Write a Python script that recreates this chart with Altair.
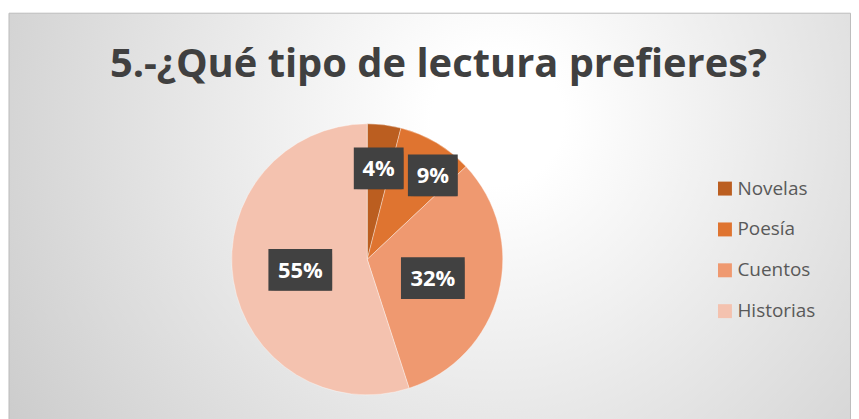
import altair as alt
import pandas as pd

# ---- data ----
TITLE = "5.-¿Qué tipo de lectura prefieres?"
categories = ["Novelas", "Poesía", "Cuentos", "Historias"]
values = [4, 9, 32, 55]
labels = ["4%", "9%", "32%", "55%"]
colors = ["#BB5E20", "#DF7430", "#EF9970", "#F4C2AF"]

df = pd.DataFrame({"cat": categories, "value": values, "label": labels,
                   "idx": list(range(len(categories)))})

# ---- layout / style ----
W, H = 846, 411
CX, CY, R = 360.5, 251.5, 136
FONT = "Open Sans"

bg = alt.Chart(alt.Data(values=[{"a": 1}])).mark_rect(
    fill=alt.RadialGradient(
        gradient="radial",
        stops=[alt.GradientStop(color="#ffffff", offset=0),
               alt.GradientStop(color="#ffffff", offset=0.1),
               alt.GradientStop(color="#c4c4c4", offset=1)],
        x1=0.58, y1=0.38, r1=0, x2=0.58, y2=0.38, r2=0.78),
    stroke="#bdbdbd", strokeWidth=1,
).encode(x=alt.value(1), x2=alt.value(W - 0.5), y=alt.value(4.5), y2=alt.value(H + 10))

pie = alt.Chart(df).mark_arc(outerRadius=R, stroke="#ffffff", strokeWidth=0.6, strokeOpacity=0.6).encode(
    theta=alt.Theta("value:Q", stack=True),
    color=alt.Color("cat:N", sort=categories, title=None,
                    scale=alt.Scale(domain=categories, range=colors),
                    legend=alt.Legend(orient="none", legendX=710, legendY=171,
                                      symbolType="square", symbolSize=196,
                                      symbolStrokeWidth=0, labelFont=FONT,
                                      labelFontSize=19, labelColor="#595959",
                                      rowPadding=21, labelOffset=3, padding=0)),
    order=alt.Order("idx:Q"),
    x=alt.value(CX), y=alt.value(CY),
)

lab = alt.Chart(df).transform_window(
    cum="sum(value)", sort=[alt.SortField("idx")], frame=[None, 0]
).transform_joinaggregate(total="sum(value)").transform_calculate(
    mid="(datum.cum - datum.value / 2) / datum.total * 2 * PI",
    rr="datum.value < 10 ? 92 : 68",
    lx=f"{CX} + datum.rr * sin(datum.mid) + (datum.cat == 'Poesía' ? 19 : 0)",
    ly=f"{CY} - datum.rr * cos(datum.mid) + (datum.cat == 'Poesía' ? -5 : 0) + (datum.cat == 'Cuentos' ? 2 : 0)",
    hw="length(datum.label) * 7 + 11",
    bx1="datum.lx - datum.hw", bx2="datum.lx + datum.hw",
    by1="datum.ly - 21", by2="datum.ly + 21",
)

enc_box = dict(x=alt.X("bx1:Q", scale=None, axis=None), x2="bx2:Q",
               y=alt.Y("by1:Q", scale=None, axis=None), y2="by2:Q")

shadow1 = lab.mark_rect(color="#000000", opacity=0.12, xOffset=4, yOffset=5, cornerRadius=3).encode(**enc_box)
shadow2 = lab.mark_rect(color="#000000", opacity=0.18, xOffset=2, yOffset=3, cornerRadius=2).encode(**enc_box)
boxes = lab.mark_rect(color="#414141").encode(**enc_box)
texts = lab.mark_text(font=FONT, fontWeight="bold", fontSize=22, color="#ffffff",
                      align="center", baseline="middle", dy=1).encode(
    x=alt.X("lx:Q", scale=None, axis=None), y=alt.Y("ly:Q", scale=None, axis=None),
    text="label:N")

title = alt.Chart(alt.Data(values=[{"t": TITLE}])).mark_text(
    font=FONT, fontWeight="bold", fontSize=40, color="#404040",
    align="center", baseline="alphabetic",
).encode(x=alt.value(432), y=alt.value(69), text="t:N")

chart = alt.layer(bg, pie, shadow1, shadow2, boxes, texts, title).properties(
    width=W, height=H, padding=0, autosize=alt.AutoSizeParams(type="none"),
).configure_view(strokeWidth=0)

chart.save("out.html", embed_options={"renderer": "svg", "actions": False})
